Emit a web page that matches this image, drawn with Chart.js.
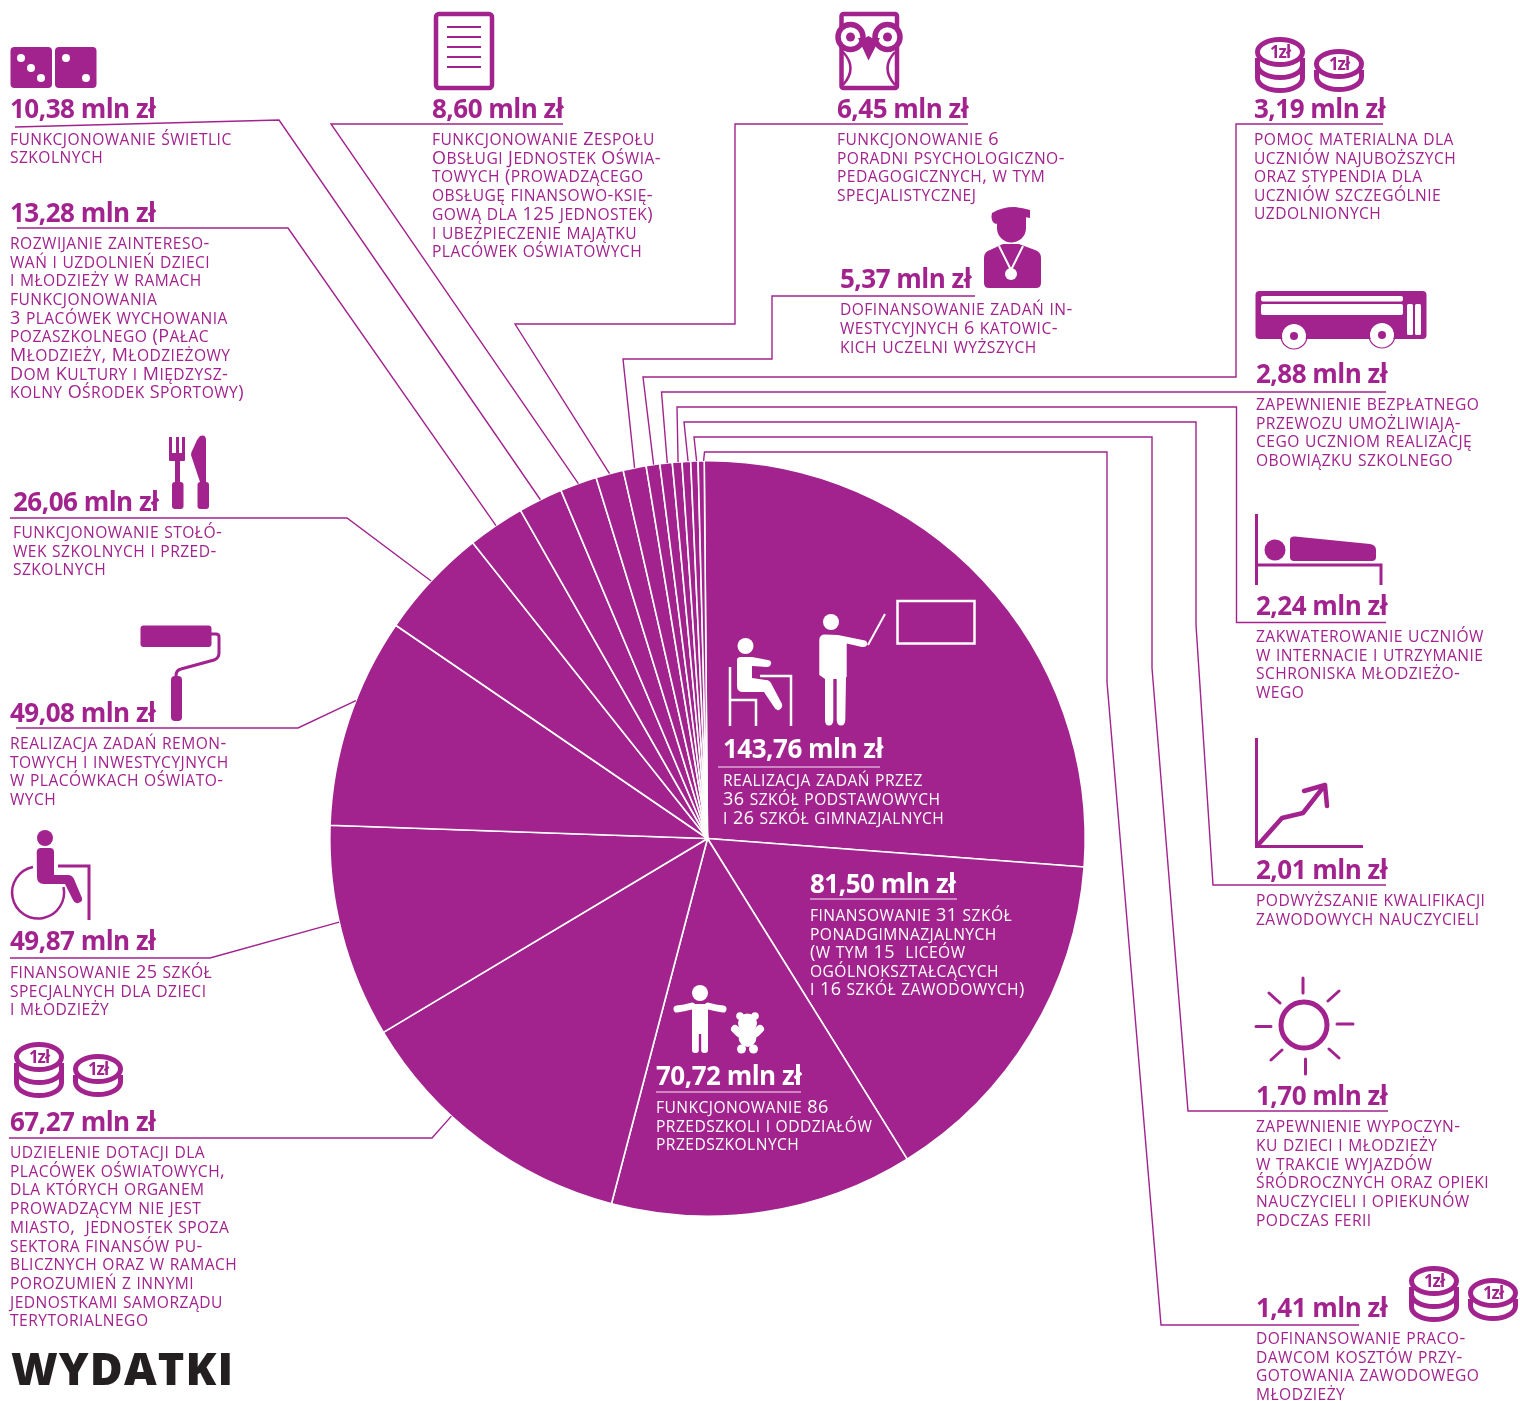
<!DOCTYPE html>
<html lang="pl">
<head>
<meta charset="utf-8">
<title>Wydatki</title>
<script src="https://cdn.jsdelivr.net/npm/chart.js@4"></script>
<style>
    html, body { margin: 0; padding: 0; background: #fff; }
    #page { position: relative; width: 1520px; height: 1401px; overflow: hidden; font-family: "Open Sans", sans-serif; color: #a2238e; }
    #pieChart, #icons, #labels { position: absolute; left: 0; top: 0; }
    .amount { position: absolute; white-space: nowrap; font-size: 26px; font-weight: 700; line-height: 30px; letter-spacing: -0.5px; }
    .desc { position: absolute; white-space: pre; font-size: 18px; font-weight: 500; line-height: 20px; letter-spacing: 0.45px; }
    .desc span { font-size: 15.6px; }
    .white { color: #fff; }
    #title { position: absolute; left: 11px; top: 1338px; font-size: 45px; line-height: 60px; font-weight: 800; color: #231f20; letter-spacing: 1.1px; }
    .coinText { font: 700 17px "Open Sans", sans-serif; text-anchor: middle; letter-spacing: -1px; }
</style>
</head>
<body>
<div id="page">
    <canvas id="pieChart" width="1520" height="1401"></canvas>
    <svg id="icons" width="1520" height="1401" viewBox="0 0 1520 1401"></svg>
    <div id="labels"></div>
    <div id="title">WYDATKI</div>
</div>
<script>
// Values in mln zl, clockwise from 12 o'clock
const categories = [
    'szkoły podstawowe i gimnazja', 'szkoły ponadgimnazjalne', 'przedszkola', 'dotacje',
    'szkoły specjalne', 'remonty i inwestycje', 'stołówki', 'wychowanie pozaszkolne',
    'świetlice', 'zespół obsługi', 'poradnie', 'uczelnie', 'pomoc materialna', 'przewozy',
    'internaty', 'kwalifikacje', 'wypoczynek', 'praktyki'
];
const values = [143.76, 81.50, 70.72, 67.27, 49.87, 49.08, 26.06, 13.28, 10.38, 8.60, 6.45, 5.37, 3.19, 2.88, 2.24, 2.01, 1.70, 1.41];

const descriptions = [
    ['realizacja zadań przez', '36 szkół podstawowych', 'i 26 szkół gimnazjalnych'],
    ['finansowanie 31 szkół', 'ponadgimnazjalnych', '(w tym 15  liceów', 'ogólnokształcących', 'i 16 szkół zawodowych)'],
    ['funkcjonowanie 86', 'przedszkoli i oddziałów', 'przedszkolnych'],
    ['udzielenie dotacji dla', 'placówek oświatowych,', 'dla których organem', 'prowadzącym nie jest', 'miasto,  jednostek spoza', 'sektora finansów pu-', 'blicznych oraz w ramach', 'porozumień z innymi', 'jednostkami samorządu', 'terytorialnego'],
    ['finansowanie 25 szkół', 'specjalnych dla dzieci', 'i młodzieży'],
    ['realizacja zadań remon-', 'towych i inwestycyjnych', 'w placówkach oświato-', 'wych'],
    ['funkcjonowanie stołó-', 'wek szkolnych i przed-', 'szkolnych'],
    ['rozwijanie zaintereso-', 'wań i uzdolnień dzieci', 'i młodzieży w ramach', 'funkcjonowania', '3 placówek wychowania', 'pozaszkolnego (Pałac', 'Młodzieży, Młodzieżowy', 'Dom Kultury i Międzysz-', 'kolny Ośrodek Sportowy)'],
    ['funkcjonowanie świetlic', 'szkolnych'],
    ['funkcjonowanie Zespołu', 'Obsługi Jednostek Oświa-', 'towych (prowadzącego', 'obsługę finansowo-księ-', 'gową dla 125 jednostek)', 'i ubezpieczenie majątku', 'placówek oświatowych'],
    ['funkcjonowanie 6', 'poradni psychologiczno-', 'pedagogicznych, w tym', 'specjalistycznej'],
    ['dofinansowanie zadań in-', 'westycyjnych 6 katowic-', 'kich uczelni wyższych'],
    ['pomoc materialna dla', 'uczniów najuboższych', 'oraz stypendia dla', 'uczniów szczególnie', 'uzdolnionych'],
    ['zapewnienie bezpłatnego', 'przewozu umożliwiają-', 'cego uczniom realizację', 'obowiązku szkolnego'],
    ['zakwaterowanie uczniów', 'w internacie i utrzymanie', 'schroniska młodzieżo-', 'wego'],
    ['podwyższanie kwalifikacji', 'zawodowych nauczycieli'],
    ['zapewnienie wypoczyn-', 'ku dzieci i młodzieży', 'w trakcie wyjazdów', 'śródrocznych oraz opieki', 'nauczycieli i opiekunów', 'podczas ferii'],
    ['dofinansowanie praco-', 'dawcom kosztów przy-', 'gotowania zawodowego', 'młodzieży']
];

// Label placement: x, centre of the amount, centre of the first text line, line step
const labelLayout = [
    [723, 748, 779, 19], [810, 883, 914, 18.6], [656, 1075, 1106, 18.5], [10, 1121, 1151, 18.7],
    [10, 940, 971, 18.6], [10, 712, 742, 18.7], [13, 501, 531, 18.5], [10, 212, 242, 18.65],
    [10, 108, 138, 18.3], [432, 108, 138, 18.7], [837, 108, 138, 18.7], [840, 278, 308, 19],
    [1254, 108, 138, 18.6], [1256, 373, 403, 18.7], [1256, 605, 635, 18.7], [1256, 869, 899, 18.5],
    [1256, 1095, 1125, 18.8], [1256, 1307, 1337, 18.7]
];

// Leader waypoints from the label towards the pie; the last point is taken from the slice itself
const leaderPaths = [
    [], [], [],
    [[9, 1138], [432, 1138]],
    [[10, 958], [210, 958]],
    [[16, 728], [298, 728]],
    [[10, 518], [347, 518]],
    [[17, 228], [288, 228]],
    [[15, 127], [279, 120]],
    [[563, 124], [331, 124]],
    [[968, 124], [735, 124], [735, 324], [515, 324]],
    [[975, 296], [772, 296], [772, 359], [623, 359]],
    [[1383, 124], [1236, 124], [1236, 377], [643, 377]],
    [[1386, 392], [661.5, 392]],
    [[1386, 622.5], [1236.5, 622.5], [1236.5, 407], [677, 407]],
    [[1386, 885], [1213, 885], [1196, 625], [1196, 422], [684, 422]],
    [[1388, 1111], [1188, 1111], [1152, 668], [1152, 437], [694, 437]],
    [[1359, 1325], [1161, 1325], [1107, 682], [1107, 452], [704.5, 452]]
];
const leaderAnchor = [0.5, 0.5, 0.5, 0.63, 0.55, 0.6, 0.5, 0.5, 0.5, 0.5, 0.5, 0.5, 0.55, 0.6, 0.6, 0.7, 0.8, 0.9];

// White rules under the labels that sit inside the pie
const innerRules = [[718, 880, 767], [810, 957, 899], [656, 801, 1092]];

const PURPLE = '#a2238e';

function formatAmount(v) {
    return v.toFixed(2).replace('.', ',') + ' mln zł';
}

// Small caps: lowercase letters become smaller capitals, capitals and digits stay tall
function smallCapsHtml(line) {
    return line.replace(/[a-ząćęłńóśźż]+/g, m => '<span>' + m.toUpperCase() + '</span>');
}

function renderLabels() {
    const box = document.getElementById('labels');
    let html = '';
    values.forEach((v, i) => {
        const [x, amountY, firstY, step] = labelLayout[i];
        const cls = i < 3 ? ' white' : '';
        html += `<div class="amount${cls}" style="left:${x}px;top:${amountY - 15}px">${formatAmount(v)}</div>`;
        descriptions[i].forEach((line, n) => {
            const top = firstY + n * step - 10;
            html += `<div class="desc${cls}" style="left:${x}px;top:${top}px">${smallCapsHtml(line)}</div>`;
        });
    });
    box.innerHTML = html;
}

function coinPair(dx, dy) {
    const stack = (x, y, n) => {
        let s = '';
        for (let k = n - 1; k >= 1; k--) {
            s += `<path d="M${x - 22.5},${y + 6} v${k * 13 - 6} a22.5,12.5 0 0 0 45,0 v-${k * 13 - 6}" fill="#fff" stroke="${PURPLE}" stroke-width="5"/>`;
        }
        s += `<ellipse cx="${x}" cy="${y}" rx="22.5" ry="12.5" fill="#fff" stroke="${PURPLE}" stroke-width="5"/>`;
        s += `<text class="coinText" x="${x}" y="${y + 6}" fill="${PURPLE}">1zł</text>`;
        return s;
    };
    return `<g transform="translate(${dx},${dy})">${stack(1280, 52, 3)}${stack(1339, 64, 2)}</g>`;
}

function renderIcons() {
    const P = PURPLE;
    document.getElementById('icons').innerHTML = `
    <g fill="${P}">
        <rect x="10.5" y="47" width="41.5" height="41" rx="4"/><rect x="55" y="47" width="41.5" height="41" rx="4"/>
        <g fill="#fff"><circle cx="21" cy="58" r="4"/><circle cx="31" cy="68" r="4"/><circle cx="41" cy="78" r="4"/><circle cx="66" cy="58" r="4"/><circle cx="86" cy="78" r="4"/></g>
    </g>
    <rect x="436" y="14" width="56" height="74" rx="3" fill="none" stroke="${P}" stroke-width="4.5"/>
    <g stroke="${P}" stroke-width="2.2"><path d="M447,27H481M447,37H481M447,47H481M447,57H481M447,67H481"/></g>

    <rect x="841.5" y="14" width="55.5" height="74" rx="2" fill="none" stroke="${P}" stroke-width="4.5"/>
    <circle cx="850.5" cy="37" r="12.5" fill="#fff" stroke="${P}" stroke-width="5.5"/><circle cx="887.5" cy="37" r="12.5" fill="#fff" stroke="${P}" stroke-width="5.5"/>
    <circle cx="850.5" cy="37" r="4.5" fill="${P}"/><circle cx="887.5" cy="37" r="4.5" fill="${P}"/>
    <path d="M858,38 L865,38 L868.5,36 L872,38 L880,38 L868.5,60.5 Z" fill="${P}"/>
    <path d="M843,52 Q858,68 843,85 M895,52 Q880,68 895,85" fill="none" stroke="${P}" stroke-width="2.5"/>

    <g fill="${P}">
        <path d="M992,213 Q1010,203 1030,210 L1030,218 Q1011,214 996,224 Q990,222 992,213 Z"/>
        <path d="M997,218 L1026,214 L1026,228 A14.5,14.5 0 0 1 997,228 Z"/>
        <path d="M984,258 Q984,252 990,250 L1003,244 L1019,244 L1035,250 Q1041,252 1041,258 L1041,283 Q1041,288 1036,288 L989,288 Q984,288 984,283 Z"/>
    </g>
    <path d="M999,246 L1011,270 L1023,246" fill="none" stroke="#fff" stroke-width="2"/><circle cx="1011" cy="274" r="6" fill="#fff"/>

    ${coinPair(0, 0)}${coinPair(-1241, 1005)}${coinPair(154, 1229)}

    <rect x="1255.5" y="291" width="171" height="48" rx="4" fill="${P}"/>
    <g fill="#fff"><rect x="1261" y="296" width="142" height="5.5" rx="2"/><rect x="1261" y="304" width="142" height="11" rx="2"/>
        <rect x="1407" y="304" width="6" height="31" rx="1.5"/><rect x="1415" y="304" width="6" height="31" rx="1.5"/>
        <circle cx="1294" cy="336" r="12"/><circle cx="1382" cy="335" r="12"/></g>
    <g fill="${P}"><circle cx="1294" cy="336" r="4"/><circle cx="1382" cy="335" r="4"/></g>
    <circle cx="1294" cy="336" r="13" fill="none" stroke="${P}" stroke-width="1.2"/><circle cx="1382" cy="335" r="13" fill="none" stroke="${P}" stroke-width="1.2"/>

    <path d="M1256.5,514 V585 M1256.5,565 H1381 V585" fill="none" stroke="${P}" stroke-width="3"/>
    <circle cx="1275" cy="550" r="10.5" fill="${P}"/>
    <path d="M1290,540 Q1290,536 1295,536.5 L1370,544 Q1376,545 1376,550 L1376,557 Q1376,561 1372,561 L1294,561 Q1290,561 1290,557 Z" fill="${P}"/>

    <path d="M1256.5,738 V846.5 H1363" fill="none" stroke="${P}" stroke-width="3"/>
    <path d="M1258,845 L1282,818 L1303,813 L1325,785 M1304,791 L1325,785 L1327,806" fill="none" stroke="${P}" stroke-width="4.5" stroke-linecap="round" stroke-linejoin="round"/>

    <circle cx="1304" cy="1025" r="23" fill="none" stroke="${P}" stroke-width="5"/>
    <path d="M1303,978 V993 M1305.5,1059 V1074 M1256,1026.5 H1271 M1337,1024 H1353 M1269,993 L1280,1003 M1328,1001 L1339,991 M1271,1060 L1282,1050 M1329,1049 L1339,1058" stroke="${P}" stroke-width="3" stroke-linecap="round"/>

    <g fill="${P}">
        <rect x="169" y="437" width="3" height="20"/><rect x="176" y="437" width="3" height="20"/><rect x="182" y="437" width="3" height="20"/>
        <rect x="169" y="453" width="16" height="8" rx="1"/><rect x="175" y="458" width="5" height="28"/><rect x="172" y="482" width="11.5" height="27" rx="3"/>
        <path d="M200,436 Q206,434 206,440 L206,485 L201,485 L191,455 Q191,452 193,449 L197,440 Z"/><rect x="197.5" y="482" width="11.5" height="27" rx="3"/>

        <rect x="140.5" y="625.5" width="71" height="21.5" rx="3"/><rect x="171" y="676" width="11" height="45" rx="4"/>
        <path d="M36.7,852 Q37,848 41,848 L50,848 Q54,848 54,852 L54,875 L68,875 Q72,875 74,879 L82,898 Q83,902 78,903 Q75,904 73,900 L65,884 L44,884 Q37,884 37,877 Z"/>
        <circle cx="45" cy="838" r="8"/>
    </g>
    <path d="M211,634 H216 Q219,634 219,637 V653 Q219,658 214,660 L181,669 Q176,670 176,676" fill="none" stroke="${P}" stroke-width="3"/>
    <path d="M33,867 A26,26 0 1 0 63.5,887" fill="none" stroke="${P}" stroke-width="2.5"/>
    <path d="M58,866 H89 V920" fill="none" stroke="${P}" stroke-width="3"/>

    <g fill="#fff">
        <circle cx="831" cy="622" r="8"/>
        <path d="M819.3,640 Q819.5,634.5 825,634.5 L838,635 L865,640.5 Q868,642 867,645 Q866,647.5 862,647 L846.7,643.5 L846.7,677 L846,677 L845.3,720 Q845,725.5 841,725.5 Q837,725.5 836.7,720 L836.7,679 L833.3,679 L833.3,720 Q833,725.5 829,725.5 Q825,725.5 825,720 L825,679 L819.3,675 Z"/>
        <circle cx="745.5" cy="646" r="8"/>
        <path d="M737,660 Q737,657 741,657 L752,657 L768,660 Q772,661 771,664 Q770,667 767,667 L752,666 L752,678 L766,680 Q770,680 772,685 L782,704 Q783,708 779,710 Q776,711 774,707 L764,692 L743,692 Q737,692 737,686 Z"/>

        <circle cx="700" cy="993" r="8"/>
        <rect x="692" y="1004" width="16" height="30"/><rect x="692" y="1030" width="6.8" height="23" rx="3"/><rect x="701.2" y="1030" width="6.8" height="23" rx="3"/>
        <circle cx="747.5" cy="1023" r="9.5"/><circle cx="740" cy="1016" r="3.8"/><circle cx="755" cy="1016" r="3.8"/>
        <ellipse cx="747.5" cy="1037" rx="9" ry="10"/><circle cx="741.5" cy="1049" r="4.5"/><circle cx="753.5" cy="1049" r="4.5"/>
    </g>
    <path d="M868,645 L885,614" stroke="#fff" stroke-width="2"/>
    <path d="M677,1009 Q685,1008 692,1006 M708,1006 Q715,1008 723,1009" fill="none" stroke="#fff" stroke-width="7" stroke-linecap="round"/>
    <path d="M735,1029 L739,1033 M760,1029 L756,1033" stroke="#fff" stroke-width="8" stroke-linecap="round"/>
    <rect x="897.5" y="601" width="77" height="42.5" fill="none" stroke="#fff" stroke-width="2.5"/>
    <path d="M730,667 V726 M730,700 H756 V726 M760,676 H791 V726" fill="none" stroke="#fff" stroke-width="2.5"/>`;
}

// Draws the leader lines on top of the pie, ending on the slice they belong to
const leaderPlugin = {
    id: 'leaders',
    afterDatasetsDraw(chart) {
        const ctx = chart.ctx;
        const arcs = chart.getDatasetMeta(0).data;
        ctx.save();
        ctx.strokeStyle = PURPLE;
        ctx.lineWidth = 1.4;
        leaderPaths.forEach((path, i) => {
            if (!path.length) return;
            const arc = arcs[i];
            const a = arc.startAngle + (arc.endAngle - arc.startAngle) * leaderAnchor[i];
            ctx.beginPath();
            path.forEach(([x, y], n) => (n ? ctx.lineTo(x, y) : ctx.moveTo(x, y)));
            ctx.lineTo(arc.x + Math.cos(a) * arc.outerRadius, arc.y + Math.sin(a) * arc.outerRadius);
            ctx.stroke();
        });
        ctx.strokeStyle = 'rgba(255,255,255,0.9)';
        ctx.lineWidth = 1.2;
        innerRules.forEach(([x0, x1, y]) => {
            ctx.beginPath();
            ctx.moveTo(x0, y);
            ctx.lineTo(x1, y);
            ctx.stroke();
        });
        ctx.restore();
    }
};

function renderPie() {
    new Chart(document.getElementById('pieChart'), {
        type: 'pie',
        data: {
            labels: categories,
            datasets: [{
                data: values,
                backgroundColor: PURPLE,
                borderColor: '#fff',
                borderWidth: 1.6
            }]
        },
        options: {
            responsive: false,
            animation: false,
            events: [],
            devicePixelRatio: 1,
            rotation: -0.5,
            layout: { padding: { left: 329, right: 434, top: 460, bottom: 184 } },
            plugins: { legend: { display: false }, tooltip: { enabled: false } }
        },
        plugins: [leaderPlugin]
    });
}

renderLabels();
renderIcons();
renderPie();
</script>
</body>
</html>
